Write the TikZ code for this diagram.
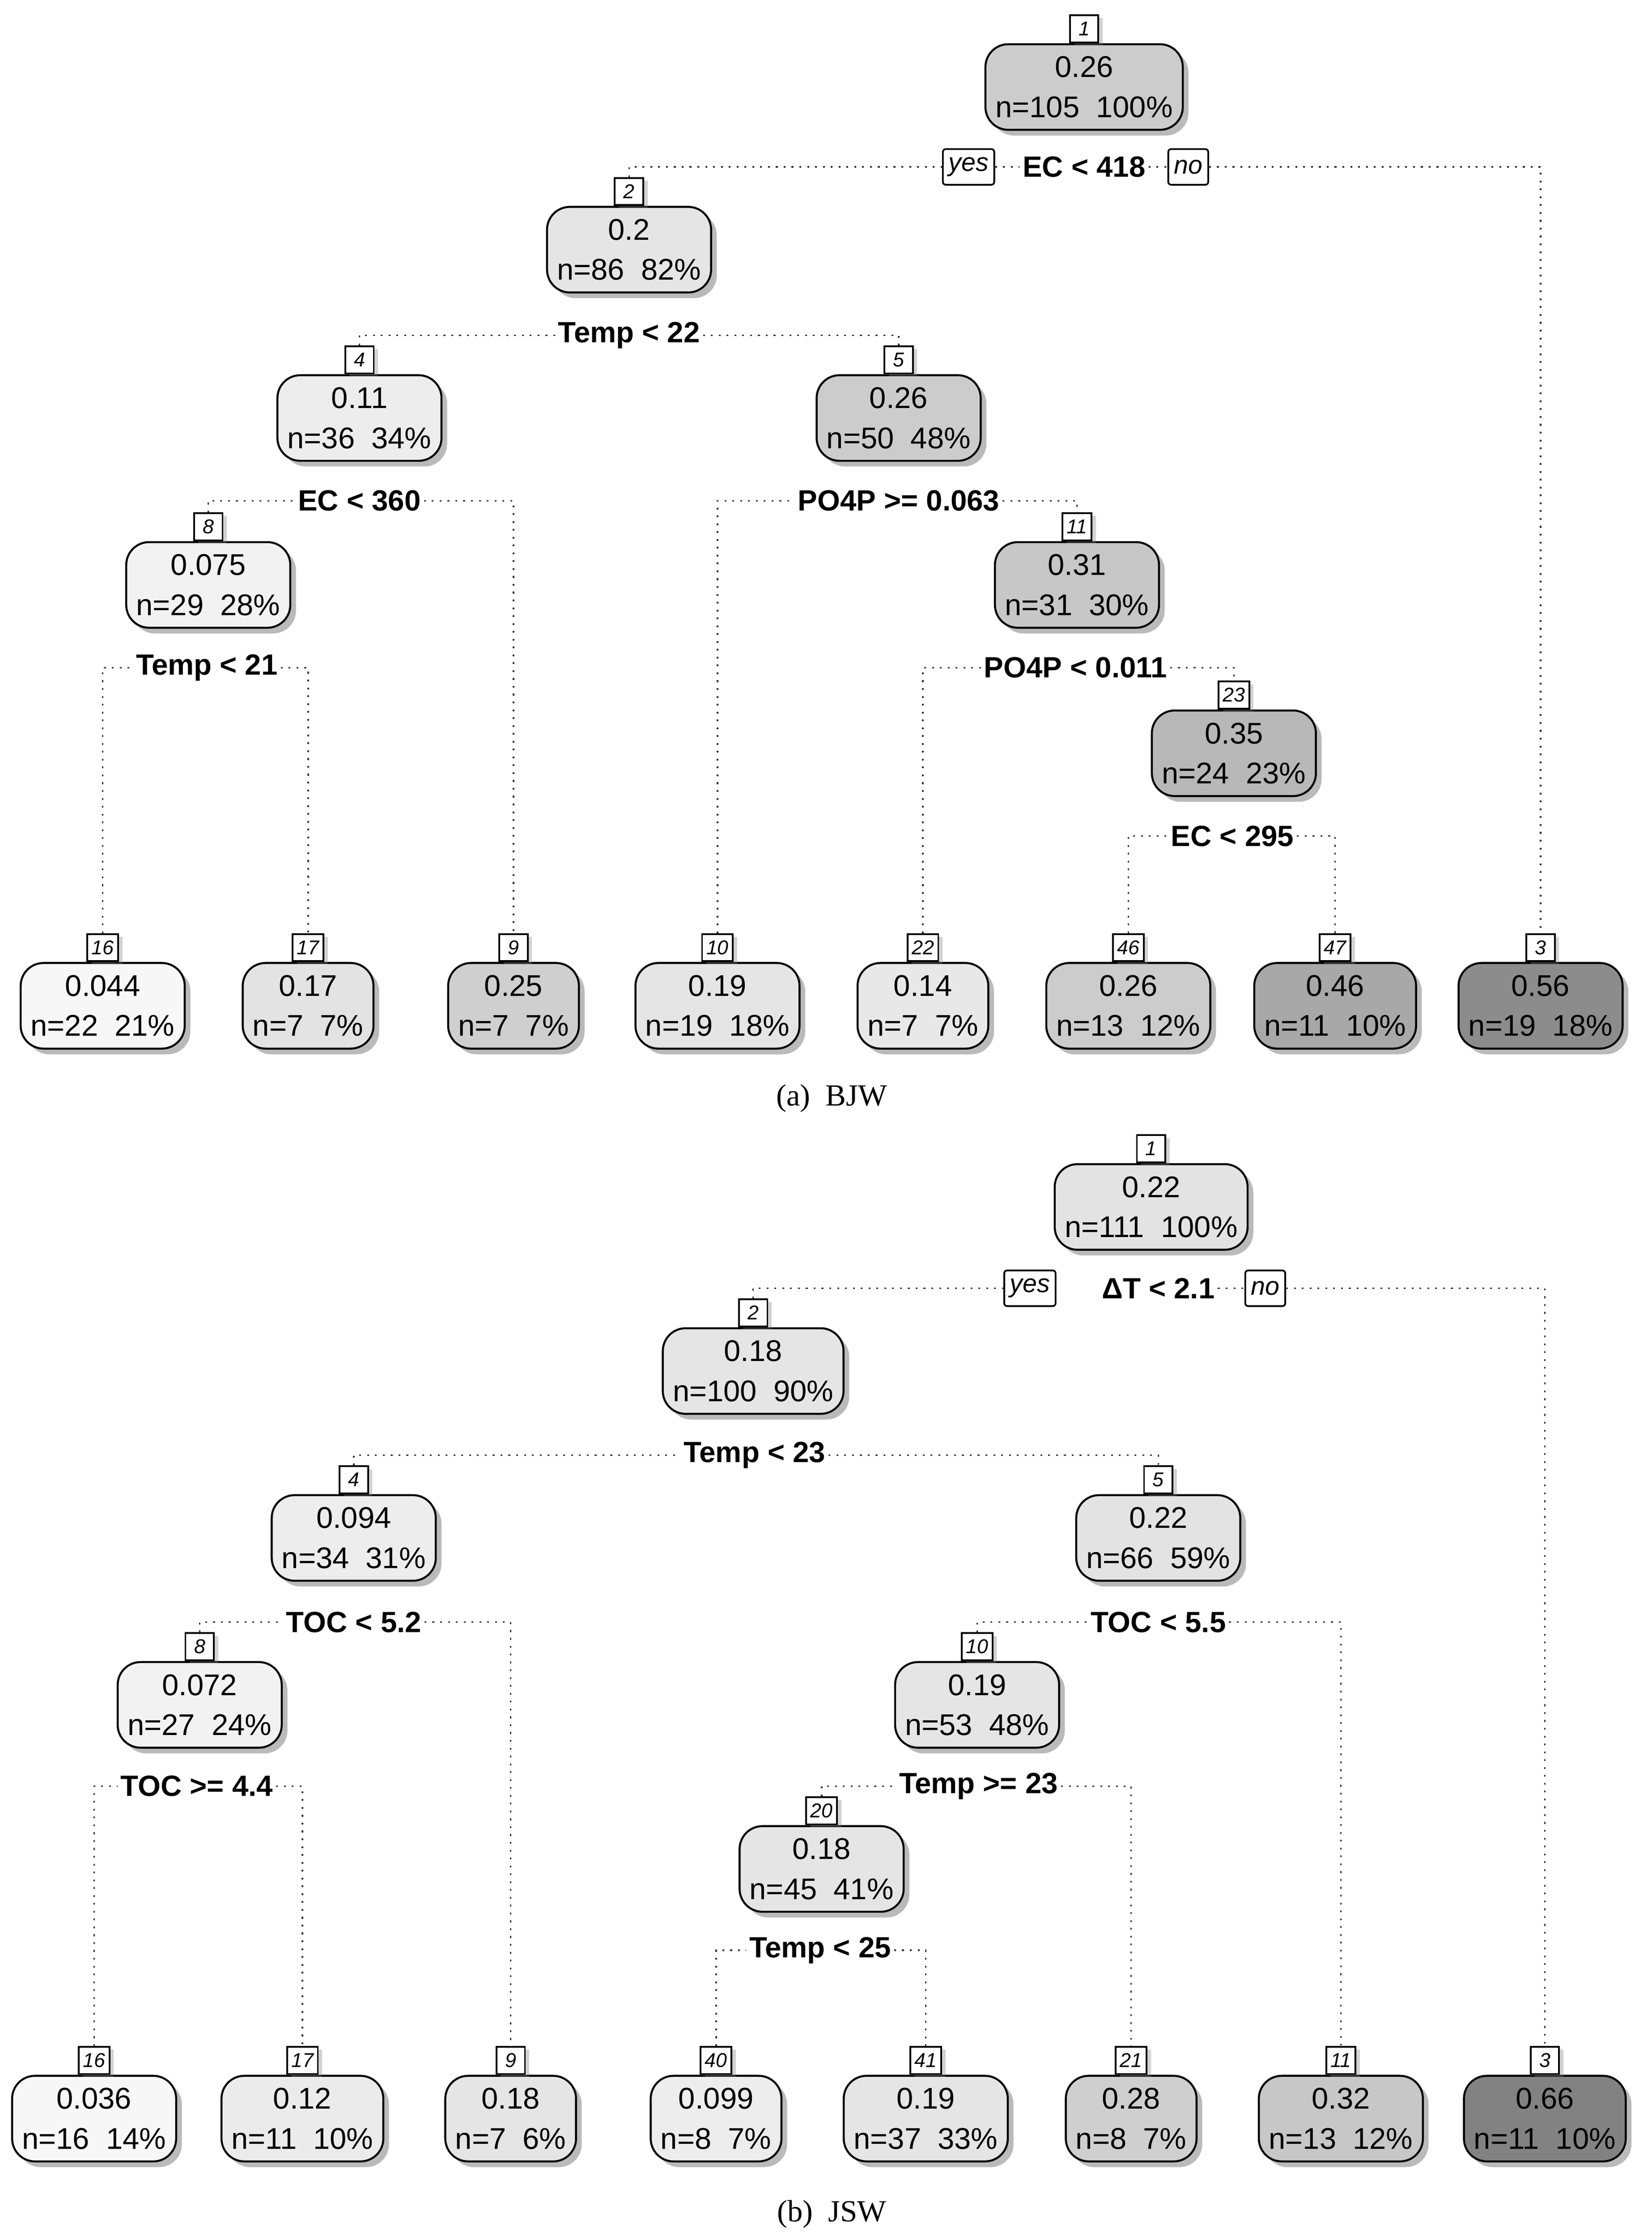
\documentclass[tikz,border=0pt]{standalone}
\usepackage{fontspec}
\setmainfont{Liberation Sans}
\newfontfamily\capfont{Liberation Serif}
\usetikzlibrary{shadows}
\newcommand\valfont{\fontsize{21}{28}\selectfont}
\newcommand\labfont{\fontsize{14}{16}\selectfont\itshape}
\newcommand\splitfont{\fontsize{20.5}{24}\selectfont\bfseries}
\newcommand\ynfont{\fontsize{18}{20}\selectfont\itshape}
\tikzset{
  tnode/.style={draw=black, line width=1.4pt, rounded corners=16pt, minimum height=60pt,
    inner xsep=7pt, inner ysep=2pt, align=center, font=\valfont,
    drop shadow={shadow xshift=4pt, shadow yshift=-4pt, fill=black!60, opacity=0.45}},
  nlab/.style={draw=black, line width=1.2pt, fill=white, inner sep=0pt, minimum height=19pt,
    minimum width=20pt, inner xsep=3pt, font=\labfont, anchor=south,
    drop shadow={shadow xshift=3pt, shadow yshift=-2pt, fill=black!50, opacity=0.35}},
  splitlab/.style={fill=white, inner sep=2pt, font=\splitfont},
  ynbox/.style={draw=black, line width=1.2pt, rounded corners=2pt, fill=white, inner xsep=4pt,
    minimum height=25pt, font=\ynfont},
  conn/.style={draw=black!80, line width=1.1pt, dash pattern=on 1.3pt off 4.2pt},
  captxt/.style={font=\capfont\fontsize{21.5}{24}\selectfont},
}
% name, x, y, gray, number, value, count
\newcommand\TN[7]{%
  \node[tnode, fill=black!#4] (#1) at (#2,-#3) {#6\\#7};
  \node[nlab] (#1l) at (#1.north) {#5};
}
\begin{document}
\begin{tikzpicture}[x=1pt,y=1pt]
\useasboundingbox (0,0) rectangle (1158,-1568);
\fill[white] (0,0) rectangle (1158,-1568);

% ---------------- (a) BJW ----------------
\TN{a1}{760}{61}{20}{1}{0.26}{n=105\ \ 100\%}
\TN{a2}{441}{175}{10}{2}{0.2}{n=86\ \ 82\%}
\TN{a4}{252}{293}{7}{4}{0.11}{n=36\ \ 34\%}
\TN{a5}{630}{293}{20}{5}{0.26}{n=50\ \ 48\%}
\TN{a8}{146}{410}{5}{8}{0.075}{n=29\ \ 28\%}
\TN{a11}{755}{410}{22}{11}{0.31}{n=31\ \ 30\%}
\TN{a23}{865}{528}{28}{23}{0.35}{n=24\ \ 23\%}
\TN{a16}{72}{705}{3}{16}{0.044}{n=22\ \ 21\%}
\TN{a17}{216}{705}{11}{17}{0.17}{n=7\ \ 7\%}
\TN{a9}{360}{705}{19}{9}{0.25}{n=7\ \ 7\%}
\TN{a10}{503}{705}{10}{10}{0.19}{n=19\ \ 18\%}
\TN{a22}{647}{705}{9}{22}{0.14}{n=7\ \ 7\%}
\TN{a46}{791}{705}{20}{46}{0.26}{n=13\ \ 12\%}
\TN{a47}{936}{705}{34}{47}{0.46}{n=11\ \ 10\%}
\TN{a3}{1080}{705}{45}{3}{0.56}{n=19\ \ 18\%}

\node[splitlab] (as1) at (760,-117) {EC < 418};
\node[ynbox] (ay) at (679,-117) {yes};
\node[ynbox] (an) at (833,-117) {no};
\node[splitlab] (as2) at (441,-235) {Temp < 22};
\node[splitlab] (as4) at (252,-351) {EC < 360};
\node[splitlab] (as5) at (630,-351) {PO4P >= 0.063};
\node[splitlab] (as8) at (145,-468) {Temp < 21};
\node[splitlab] (as11) at (754,-468) {PO4P < 0.011};
\node[splitlab] (as23) at (864,-586) {EC < 295};

\draw[conn] (a2l.north) |- (ay.west);
\draw[conn] (ay.east) -- (as1.west);
\draw[conn] (as1.east) -- (an.west);
\draw[conn] (an.east) -| (a3l.north);
\draw[conn] (a4l.north) |- (as2.west);
\draw[conn] (as2.east) -| (a5l.north);
\draw[conn] (a8l.north) |- (as4.west);
\draw[conn] (as4.east) -| (a9l.north);
\draw[conn] (a10l.north) |- (as5.west);
\draw[conn] (as5.east) -| (a11l.north);
\draw[conn] (a16l.north) |- (as8.west);
\draw[conn] (as8.east) -| (a17l.north);
\draw[conn] (a22l.north) |- (as11.west);
\draw[conn] (as11.east) -| (a23l.north);
\draw[conn] (a46l.north) |- (as23.west);
\draw[conn] (as23.east) -| (a47l.north);

\node[captxt] (capa) at (583,-770) {(a)\ \ BJW};

% ---------------- (b) JSW ----------------
\TN{b1}{807}{846}{11}{1}{0.22}{n=111\ \ 100\%}
\TN{b2}{528}{961}{10}{2}{0.18}{n=100\ \ 90\%}
\TN{b4}{248}{1078}{7}{4}{0.094}{n=34\ \ 31\%}
\TN{b5}{812}{1078}{11}{5}{0.22}{n=66\ \ 59\%}
\TN{b8}{140}{1195}{5}{8}{0.072}{n=27\ \ 24\%}
\TN{b10}{685}{1195}{10}{10}{0.19}{n=53\ \ 48\%}
\TN{b20}{576}{1310}{10}{20}{0.18}{n=45\ \ 41\%}
\TN{b16}{66}{1485}{3}{16}{0.036}{n=16\ \ 14\%}
\TN{b17}{212}{1485}{8}{17}{0.12}{n=11\ \ 10\%}
\TN{b9}{358}{1485}{10}{9}{0.18}{n=7\ \ 6\%}
\TN{b40}{502}{1485}{7}{40}{0.099}{n=8\ \ 7\%}
\TN{b41}{649}{1485}{10}{41}{0.19}{n=37\ \ 33\%}
\TN{b21}{793}{1485}{19}{21}{0.28}{n=8\ \ 7\%}
\TN{b11}{940}{1485}{22}{11}{0.32}{n=13\ \ 12\%}
\TN{b3}{1083}{1485}{49}{3}{0.66}{n=11\ \ 10\%}

\node[splitlab] (bs1) at (812,-903) {ΔT < 2.1};
\node[ynbox] (by) at (722,-903) {yes};
\node[ynbox] (bn) at (887,-903) {no};
\node[splitlab] (bs2) at (529,-1020) {Temp < 23};
\node[splitlab] (bs4) at (248,-1137) {TOC < 5.2};
\node[splitlab] (bs5) at (812,-1137) {TOC < 5.5};
\node[splitlab] (bs8) at (138,-1252) {TOC >= 4.4};
\node[splitlab] (bs10) at (686,-1252) {Temp >= 23};
\node[splitlab] (bs20) at (575,-1367) {Temp < 25};

\draw[conn] (b2l.north) |- (by.west);
\draw[conn] (bs1.east) -- (bn.west);
\draw[conn] (bn.east) -| (b3l.north);
\draw[conn] (b4l.north) |- (bs2.west);
\draw[conn] (bs2.east) -| (b5l.north);
\draw[conn] (b8l.north) |- (bs4.west);
\draw[conn] (bs4.east) -| (b9l.north);
\draw[conn] (b10l.north) |- (bs5.west);
\draw[conn] (bs5.east) -| (b11l.north);
\draw[conn] (b16l.north) |- (bs8.west);
\draw[conn] (bs8.east) -| (b17l.north);
\draw[conn] (b20l.north) |- (bs10.west);
\draw[conn] (bs10.east) -| (b21l.north);
\draw[conn] (b40l.north) |- (bs20.west);
\draw[conn] (bs20.east) -| (b41l.north);

\node[captxt] (capb) at (583,-1552) {(b)\ \ JSW};
\end{tikzpicture}
\end{document}
